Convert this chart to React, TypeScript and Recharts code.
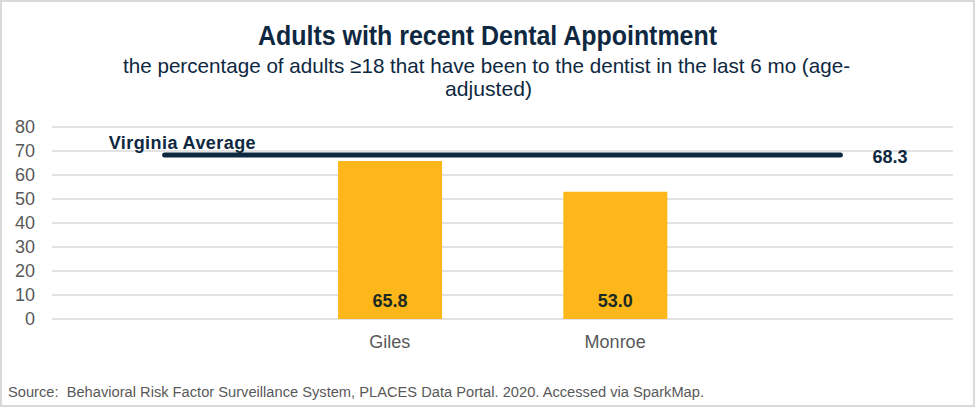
import { ComposedChart, Bar, Line, XAxis, YAxis, CartesianGrid, LabelList } from 'recharts'

const COUNTIES = ['', 'Giles', 'Monroe', '']
const PERCENT = [null, 65.8, 53.0, null]
const VA_AVERAGE = [68.3, 68.3, 68.3, 68.3]
const Y_TICKS = [0, 10, 20, 30, 40, 50, 60, 70, 80]

const data = COUNTIES.map((name, i) => ({
  key: `c${i}`,
  name,
  pct: PERCENT[i],
  avg: VA_AVERAGE[i],
}))

const NAVY = '#0E2841'
const GRAY = '#595959'
const SANS = '"Liberation Sans", Arial, sans-serif'

function AvgLabel(props: any) {
  const { x, y, index } = props
  if (index === 0) {
    return (
      <text x={x - 56} y={y - 6} fill={NAVY} fontSize={18} fontWeight="bold" fontFamily={SANS} textLength={147}>
        Virginia Average
      </text>
    )
  }
  if (index === COUNTIES.length - 1) {
    return (
      <text x={x + 32} y={y + 8} fill={NAVY} fontSize={18} fontWeight="bold" fontFamily={SANS}>
        {VA_AVERAGE[index].toFixed(1)}
      </text>
    )
  }
  return null
}

export default function App() {
  return (
    <div
      style={{
        position: 'absolute',
        top: 0,
        left: 0,
        width: 977,
        height: 407,
        background: '#fff',
        overflow: 'hidden',
      }}
    >
      <div
        style={{
          position: 'absolute',
          left: 0,
          top: 0,
          width: 971,
          height: 403,
          border: '2px solid #d9d9d9',
        }}
      />
      <ComposedChart
        width={977}
        height={407}
        data={data}
        margin={{ top: 127, right: 24, bottom: 50, left: 12 }}
        barCategoryGap="27%"
      >
        <CartesianGrid vertical={false} stroke="#d9d9d9" strokeWidth={1.6} />
        <XAxis
          dataKey="key"
          tickFormatter={(v, i) => COUNTIES[i]}
          axisLine={false}
          tickLine={false}
          tickSize={0}
          tickMargin={16}
          height={38}
          interval={0}
          tick={{ fontSize: 18, fill: GRAY, fontFamily: SANS }}
        />
        <YAxis
          domain={[0, 80]}
          ticks={Y_TICKS}
          interval={0}
          axisLine={false}
          tickLine={false}
          tickSize={0}
          tickMargin={17}
          width={40}
          tick={{ fontSize: 18, fill: GRAY, fontFamily: SANS }}
        />
        <Bar dataKey="pct" fill="#FDB71A" isAnimationActive={false}>
          <LabelList
            dataKey="pct"
            position="insideBottom"
            offset={12}
            formatter={(v: any) => (v == null ? '' : Number(v).toFixed(1))}
            style={{ fontSize: 18, fontWeight: 'bold', fill: '#1b2a22', fontFamily: SANS }}
          />
        </Bar>
        <Line
          dataKey="avg"
          stroke={NAVY}
          strokeWidth={5}
          strokeLinecap="round"
          dot={false}
          activeDot={false}
          isAnimationActive={false}
          label={<AvgLabel />}
        />
      </ComposedChart>
      <svg
        width={977}
        height={407}
        style={{ position: 'absolute', top: 0, left: 0, pointerEvents: 'none' }}
      >
        <text
          x={258}
          y={45}
          fontSize={27}
          fontWeight="bold"
          fill={NAVY}
          fontFamily={SANS}
          textLength={459}
          lengthAdjust="spacingAndGlyphs"
        >
          Adults with recent Dental Appointment
        </text>
        <text
          x={123}
          y={73}
          fontSize={21}
          fill={NAVY}
          fontFamily={SANS}
          textLength={727}
          lengthAdjust="spacingAndGlyphs"
        >
          the percentage of adults ≥18 that have been to the dentist in the last 6 mo (age-
        </text>
        <text
          x={445}
          y={96}
          fontSize={21}
          fill={NAVY}
          fontFamily={SANS}
          textLength={87}
          lengthAdjust="spacingAndGlyphs"
        >
          adjusted)
        </text>
        <text
          x={8}
          y={397}
          fontSize={14}
          fill={GRAY}
          fontFamily={SANS}
          textLength={696}
          lengthAdjust="spacingAndGlyphs"
        >
          {'Source:\u00a0 Behavioral Risk Factor Surveillance System, PLACES Data Portal. 2020. Accessed via SparkMap.'}
        </text>
      </svg>
    </div>
  )
}
